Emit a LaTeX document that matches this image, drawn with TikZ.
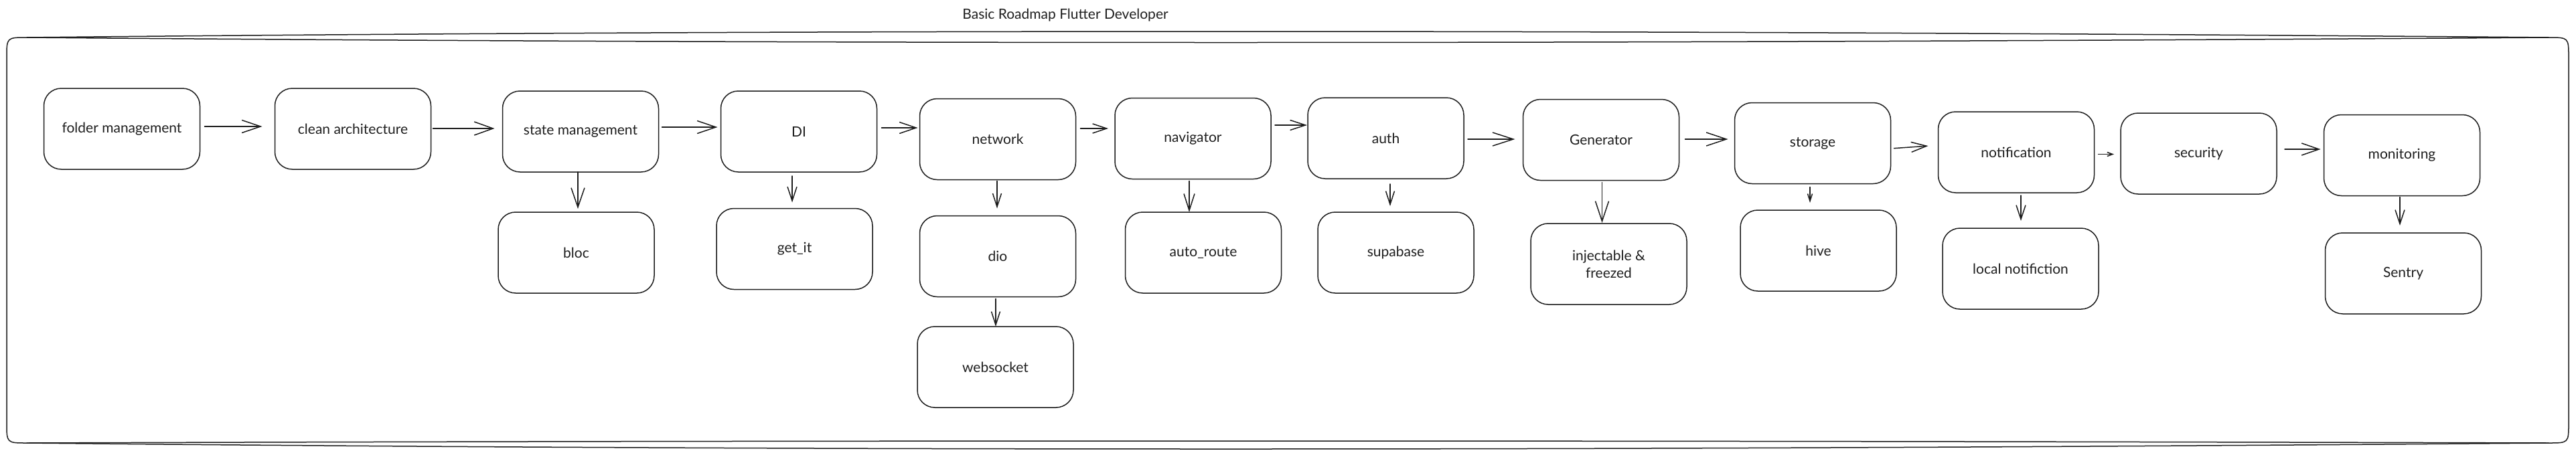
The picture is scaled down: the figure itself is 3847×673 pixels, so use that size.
\documentclass[tikz,border=0pt]{standalone}
\usepackage{fontspec}
\setmainfont{Lato}
\usetikzlibrary{arrows.meta}
\definecolor{ink}{HTML}{1E1E1E}
\tikzset{
  box/.style={draw=ink, line width=1.5pt, rounded corners=26pt, minimum width=233pt,
    minimum height=121pt, inner sep=0pt, outer sep=0pt, align=center, text=ink,
    font=\fontsize{21pt}{26pt}\selectfont},
  con/.style={draw=ink, line width=1.5pt, line cap=round, line join=round},
  hd/.style 2 args={-{Straight Barb[length=#1pt,width=#2pt]}},
  frameline/.style={draw=ink, line width=1.5pt, line cap=round}
}
\begin{document}
\begin{tikzpicture}[x=1pt,y=-1pt]
\useasboundingbox (0,0) rectangle (3847,673);
% title
\node[text=ink, font=\fontsize{21pt}{26pt}\selectfont] (title) at (1591,23) {Basic Roadmap Flutter Developer};
% frame
\draw[frameline] (40,56) .. controls (1200,66) and (2400,66) .. (3806,56)
  .. controls (3836,56) .. (3836,86) -- (3836,632)
  .. controls (3836,662) .. (3806,662)
  .. controls (2400,674) and (1200,674) .. (40,662)
  .. controls (10,662) .. (10,632) -- (10,86)
  .. controls (10,56) .. (40,56) -- cycle;
\draw[frameline] (40,56) .. controls (1200,44) and (2400,44) .. (3806,56);
\draw[frameline] (40,662) .. controls (1200,658) and (2400,658) .. (3806,662);
% boxes
\node[box] (folder) at (182,192.5) {folder management};
\node[box] (clean) at (527,192.5) {clean architecture};
\node[box] (state) at (867,196.5) {state management};
\node[box] (bloc) at (860.5,377.5) {bloc};
\node[box] (di) at (1193,196.5) {DI};
\node[box] (getit) at (1186.5,372) {get\_it};
\node[box] (network) at (1490,208) {network};
\node[box] (dio) at (1490,383) {dio};
\node[box] (websocket) at (1486.5,548.5) {websocket};
\node[box] (navigator) at (1781.5,207) {navigator};
\node[box] (autoroute) at (1797,377.5) {auto\_route};
\node[box] (auth) at (2069.5,206.5) {auth};
\node[box] (supabase) at (2084.5,377.5) {supabase};
\node[box] (generator) at (2391,209) {Generator};
\node[box] (injectable) at (2402.5,394.5) {injectable \&\\freezed};
\node[box] (storage) at (2707,214) {storage};
\node[box] (hive) at (2715.5,374.5) {hive};
\node[box] (notification) at (3011,227.5) {notification};
\node[box] (localnotif) at (3017.5,401.5) {local notifiction};
\node[box] (security) at (3283.5,229.5) {security};
\node[box] (monitoring) at (3587,232) {monitoring};
\node[box] (sentry) at (3589,408.5) {Sentry};
% horizontal connectors
\draw[con,hd={28}{19},shorten <=7pt,shorten >=19pt] ([yshift=3.5pt]folder.east) -- ([yshift=3.5pt]clean.west);
\draw[con,hd={28}{20},shorten <=3pt,shorten >=12pt] ([yshift=0.5pt]clean.east) -- ([yshift=4.5pt]state.west);
\draw[con,hd={28}{19},shorten <=5pt,shorten >=5pt] ([yshift=6.5pt]state.east) -- ([yshift=6.5pt]di.west);
\draw[con,hd={25}{17},shorten <=7pt,shorten >=3pt] ([yshift=5.5pt]di.east) -- ([yshift=17pt]network.west);
\draw[con,hd={21}{14},shorten <=7pt,shorten >=10pt] ([yshift=16pt]network.east) -- ([yshift=15pt]navigator.west);
\draw[con,hd={23}{15},shorten <=6pt,shorten >=1pt] ([yshift=20pt]navigator.east) -- ([yshift=19.5pt]auth.west);
\draw[con,hd={31}{20},shorten <=6pt,shorten >=12pt] ([yshift=-1.5pt]auth.east) -- ([yshift=1pt]generator.west);
\draw[con,hd={30}{20},shorten <=9pt,shorten >=10pt] ([yshift=1pt]generator.east) -- ([yshift=6pt]storage.west);
\draw[con,hd={23}{15},shorten <=5pt,shorten >=15pt] ([yshift=-8pt]storage.east) -- ([yshift=10.5pt]notification.west);
\draw[con,hd={8}{6},shorten <=6pt,shorten >=10pt] ([yshift=-3pt]notification.east) -- ([yshift=-1pt]security.west);
\draw[con,hd={26}{18},shorten <=12pt,shorten >=5pt] ([yshift=6.5pt]security.east) -- ([yshift=9pt]monitoring.west);
% vertical connectors
\draw[con,hd={29}{20},shorten <=0pt,shorten >=5pt] ([xshift=-4pt]state.south) -- ([xshift=2.5pt]bloc.north);
\draw[con,hd={21}{14},shorten <=6pt,shorten >=9pt] ([xshift=-10pt]di.south) -- ([xshift=-3.5pt]getit.north);
\draw[con,hd={20}{13},shorten <=2pt,shorten >=11pt] ([xshift=-1pt]network.south) -- ([xshift=-1pt]dio.north);
\draw[con,hd={20}{13},shorten <=3pt,shorten >=0pt] ([xshift=-3pt]dio.south) -- ([xshift=0.5pt]websocket.north);
\draw[con,hd={25}{16},shorten <=3pt,shorten >=0pt] ([xshift=-5.5pt]navigator.south) -- ([xshift=-21pt]autoroute.north);
\draw[con,hd={20}{13},shorten <=8pt,shorten >=9pt] ([xshift=6.5pt]auth.south) -- ([xshift=-8.5pt]supabase.north);
\draw[con,hd={30}{20},shorten <=3pt,shorten >=1pt] ([xshift=1.5pt]generator.south) -- ([xshift=-10pt]injectable.north);
\draw[con,hd={11}{7},shorten <=5pt,shorten >=11pt] ([xshift=-4pt]storage.south) -- ([xshift=-12.5pt]hive.north);
\draw[con,hd={21}{14},shorten <=4pt,shorten >=11pt] ([xshift=7pt]notification.south) -- ([xshift=0.5pt]localnotif.north);
\draw[con,hd={21}{14},shorten <=2pt,shorten >=11pt] ([xshift=-3pt]monitoring.south) -- ([xshift=-5pt]sentry.north);
\end{tikzpicture}
\end{document}
